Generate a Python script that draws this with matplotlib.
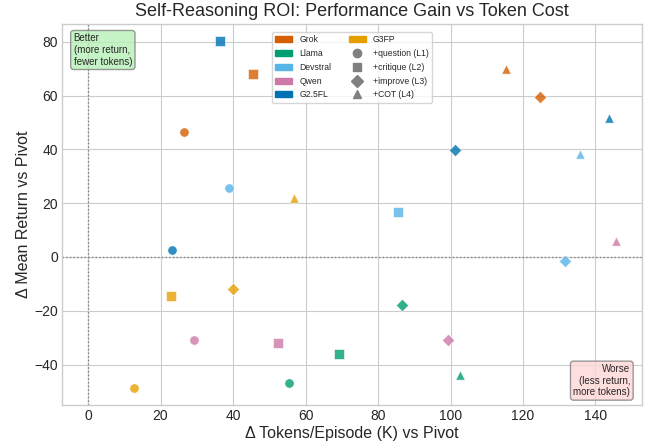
import matplotlib
matplotlib.use("Agg")
import matplotlib.pyplot as plt
from matplotlib.patches import Patch
from matplotlib.lines import Line2D

# Data (K tokens, mean return delta vs pivot)
models = ["Grok", "Llama", "Devstral", "Qwen", "G2.5FL", "G3FP"]
colors = ["#D55E00", "#009E73", "#56B4E9", "#CC79A7", "#0072B2", "#E69F00"]
levels = ["+question (L1)", "+critique (L2)", "+improve (L3)", "+COT (L4)"]
markers = ["o", "s", "D", "^"]

tokens = {
    "Grok":     [26.5, 45.5, 124.7, 115.3],
    "Llama":    [55.4, 69.2, 86.6, 102.6],
    "Devstral": [38.9, 85.5, 131.6, 135.7],
    "Qwen":     [29.2, 52.4, 99.3, 145.7],
    "G2.5FL":   [23.2, 36.4, 101.2, 143.7],
    "G3FP":     [12.7, 22.9, 40.0, 56.8],
}
returns = {
    "Grok":     [46.5, 68.0, 59.5, 70.0],
    "Llama":    [-46.9, -36.1, -17.9, -43.9],
    "Devstral": [25.7, 16.7, -1.5, 38.3],
    "Qwen":     [-30.9, -32.0, -30.9, 6.0],
    "G2.5FL":   [2.6, 80.4, 39.8, 51.7],
    "G3FP":     [-48.7, -14.5, -11.9, 22.0],
}

plt.style.use("seaborn-v0_8-whitegrid")
fig, ax = plt.subplots(figsize=(6.49, 4.42), dpi=100)
fig.subplots_adjust(left=0.0955, right=0.989, top=0.946, bottom=0.084)

for m, c in zip(models, colors):
    for x, y, mk in zip(tokens[m], returns[m], markers):
        ax.scatter(x, y, color=c, marker=mk, s=45 if mk != "D" else 40,
                   alpha=0.8, edgecolors="white", linewidths=0.5, zorder=3)

ax.axhline(0, color="gray", linestyle=":", linewidth=1)
ax.axvline(0, color="gray", linestyle=":", linewidth=1)

ax.set_xlim(-7.2, 152.8)
ax.set_ylim(-55, 86.7)
ax.set_xlabel("Δ Tokens/Episode (K) vs Pivot", fontsize=11.5, labelpad=2)
ax.set_ylabel("Δ Mean Return vs Pivot", fontsize=11.5, labelpad=2)
ax.set_title("Self-Reasoning ROI: Performance Gain vs Token Cost", fontsize=13)
ax.tick_params(labelsize=10, pad=3)
for s in ax.spines.values():
    s.set_visible(True)
    s.set_color("#cccccc")

ax.text(0.02, 0.975, "Better\n(more return,\nfewer tokens)", transform=ax.transAxes,
        fontsize=7, va="top", ha="left",
        bbox=dict(boxstyle="round,pad=0.3", facecolor="#b8f0b8", edgecolor="gray", alpha=0.8))
ax.text(0.98, 0.02, "Worse\n(less return,\nmore tokens)", transform=ax.transAxes,
        fontsize=7, va="bottom", ha="right",
        bbox=dict(boxstyle="round,pad=0.3", facecolor="#ffd6d6", edgecolor="gray", alpha=0.8))

handles = [Patch(color=c, label=m) for m, c in zip(models, colors)]
handles += [Line2D([], [], marker=mk, color="gray", linestyle="", markersize=6, label=l)
            for mk, l in zip(markers, levels)]
ax.legend(handles=handles, ncol=2, fontsize=6.2, loc="upper center",
          bbox_to_anchor=(0.5, 0.99), frameon=True, labelspacing=0.55)

plt.savefig("out.png", dpi=100)
